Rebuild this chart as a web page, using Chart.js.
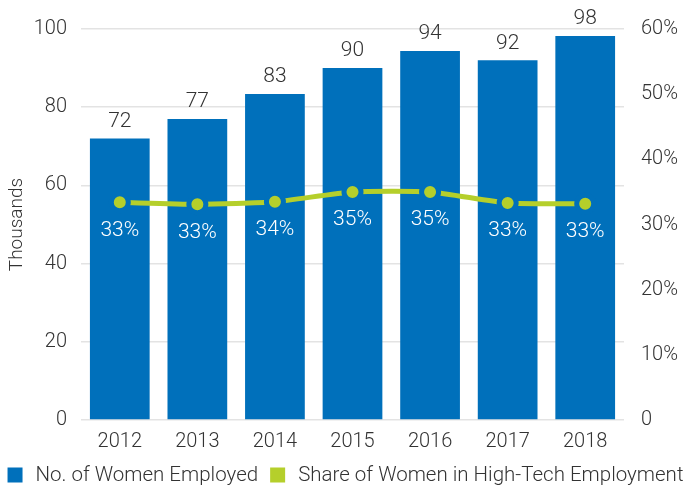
<!DOCTYPE html>
<html>
<head>
<meta charset="utf-8">
<script src="https://cdn.jsdelivr.net/npm/chart.js@4/dist/chart.umd.min.js"></script>
<style>
  html, body { margin: 0; padding: 0; background: #fff; }
  #wrap { width: 687px; height: 490px; }
</style>
</head>
<body>
<div id="wrap"><canvas id="c" width="687" height="490"></canvas></div>
<script>
const years = ['2012', '2013', '2014', '2015', '2016', '2017', '2018'];
const womenEmployed = [72, 77, 83.4, 90, 94.4, 92, 98.2];
const shareHighTech = [33.4, 33.1, 33.5, 35.0, 35.0, 33.3, 33.2];
const leftTicks = [0, 20, 40, 60, 80, 100];
const rightTicks = ['0', '10%', '20%', '30%', '40%', '50%', '60%'];
const legendNames = ['No. of Women Employed', 'Share of Women in High-Tech Employment'];

const BLUE = '#0070bb';
const GREEN = '#b5cf2b';
const TXT = '#333333';
const FONT = "Roboto, 'Liberation Sans', sans-serif";
const legendColors = [BLUE, GREEN];

const labelPlugin = {
  id: 'valueLabels',
  afterDatasetsDraw(chart) {
    const ctx = chart.ctx;
    ctx.save();
    ctx.textAlign = 'center';
    ctx.textBaseline = 'middle';
    const barMeta = chart.getDatasetMeta(1);
    ctx.font = '300 21px ' + FONT;
    ctx.fillStyle = TXT;
    barMeta.data.forEach((el, i) => {
      ctx.fillText(Math.round(womenEmployed[i]).toString(), el.x, el.y - 17);
    });
    const lineMeta = chart.getDatasetMeta(0);
    ctx.fillStyle = '#ffffff';
    lineMeta.data.forEach((el, i) => {
      ctx.fillText(Math.round(shareHighTech[i]) + '%', el.x, el.y + 28);
    });
    ctx.restore();
  }
};

const legendPlugin = {
  id: 'customLegend',
  afterDraw(chart) {
    const ctx = chart.ctx;
    ctx.save();
    ctx.font = '300 20.5px ' + FONT;
    const box = 15, gapText = 13, gapItem = 12;
    const widths = legendNames.map(t => ctx.measureText(t).width);
    let total = 0;
    widths.forEach((w, i) => { total += box + gapText + w + (i < widths.length - 1 ? gapItem : 0); });
    let x = (chart.width - total) / 2 + 2;
    const cy = chart.height - 15;
    ctx.textBaseline = 'middle';
    ctx.textAlign = 'left';
    legendNames.forEach((t, i) => {
      ctx.fillStyle = legendColors[i];
      ctx.fillRect(x, cy - box / 2, box, box);
      x += box + gapText;
      ctx.fillStyle = TXT;
      ctx.fillText(t, x, cy + 1);
      x += widths[i] + gapItem;
    });
    ctx.restore();
  }
};

new Chart(document.getElementById('c'), {
  data: {
    labels: years,
    datasets: [
      {
        type: 'line',
        label: legendNames[1],
        data: shareHighTech,
        yAxisID: 'y2',
        borderColor: GREEN,
        backgroundColor: GREEN,
        borderWidth: 5,
        tension: 0.2,
        pointRadius: 8.5,
        pointBorderWidth: 5,
        pointBackgroundColor: GREEN,
        pointBorderColor: BLUE,
        order: 0
      },
      {
        type: 'bar',
        label: legendNames[0],
        data: womenEmployed,
        yAxisID: 'y',
        backgroundColor: BLUE,
        barPercentage: 0.77,
        categoryPercentage: 1.0,
        order: 1
      }
    ]
  },
  options: {
    responsive: false,
    animation: false,
    layout: { padding: { top: 26, left: 0, right: 0, bottom: 26 } },
    plugins: {
      tooltip: { enabled: false },
      legend: { display: false }
    },
    scales: {
      x: {
        grid: { display: false, drawTicks: false },
        border: { display: false },
        ticks: { color: TXT, font: { family: FONT, size: 20, weight: '300' }, padding: 10 }
      },
      y: {
        position: 'left',
        min: 0, max: 100,
        afterBuildTicks(axis) { axis.ticks = leftTicks.map(v => ({ value: v })); },
        afterFit(axis) { axis.width = 81; },
        grid: { color: '#e3e3e3', lineWidth: 1.5, drawTicks: false },
        border: { display: false },
        ticks: { color: TXT, font: { family: FONT, size: 20, weight: '300' }, padding: 14 },
        title: { display: true, text: 'Thousands', color: TXT, font: { family: FONT, size: 19, weight: '300' }, padding: { top: 6, bottom: 0 } }
      },
      y2: {
        position: 'right',
        min: 0, max: 60,
        afterBuildTicks(axis) { axis.ticks = rightTicks.map((t, i) => ({ value: i * 10 })); },
        afterFit(axis) { axis.width = 63; },
        grid: { display: false, drawTicks: false },
        border: { display: false },
        ticks: {
          color: TXT, font: { family: FONT, size: 20, weight: '300' }, padding: 17,
          callback(v, i) { return rightTicks[i]; }
        }
      }
    }
  },
  plugins: [labelPlugin, legendPlugin]
});
</script>
</body>
</html>
